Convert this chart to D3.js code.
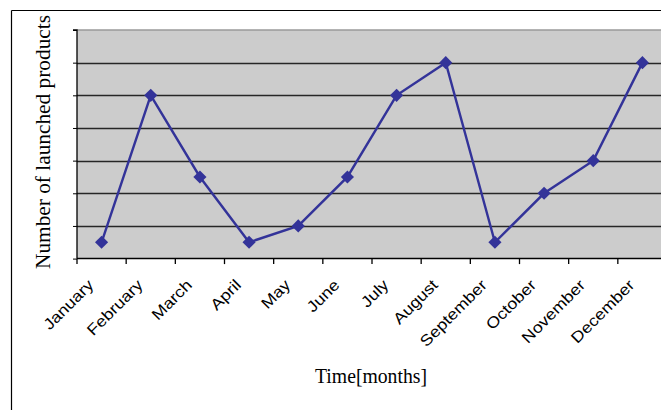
<!DOCTYPE html>
<html>
<head>
<meta charset="utf-8">
<script src="https://cdn.jsdelivr.net/npm/d3@7"></script>
<style>
  html, body { margin: 0; padding: 0; background: #ffffff; }
  svg { display: block; }
</style>
</head>
<body>
<svg id="chart" width="661" height="410"></svg>
<script>
// Monthly launches
const months = ["January", "February", "March", "April", "May", "June",
                "July", "August", "September", "October", "November", "December"];
const launched = [0.5, 5, 2.5, 0.5, 1, 2.5, 5, 6, 0.5, 2, 3, 6];
const gridValues = [0, 1, 2, 3, 4, 5, 6, 7];
const xTitle = "Time[months]";
const yTitle = "Number of launched products";

const svg = d3.select("#chart");
const W = 661, H = 410;
const plot = { left: 77, right: 667, top: 30, bottom: 258.6 };

// Outer frame (top and left edges visible)
svg.append("line").attr("x1", 11.5).attr("x2", W).attr("y1", 10.5).attr("y2", 10.5)
  .attr("stroke", "#000").attr("stroke-width", 1.2);
svg.append("line").attr("x1", 11.5).attr("x2", 11.5).attr("y1", 10.5).attr("y2", H)
  .attr("stroke", "#000").attr("stroke-width", 1.2);

const x = d3.scaleBand().domain(months).range([plot.left, plot.right]).padding(0);
const y = d3.scaleLinear().domain([0, 7]).range([plot.bottom, plot.top]);

// Plot background
svg.append("rect")
  .attr("x", plot.left).attr("y", plot.top)
  .attr("width", plot.right - plot.left).attr("height", plot.bottom - plot.top)
  .attr("fill", "#cccccc");

// Top border of plot area
svg.append("line")
  .attr("x1", plot.left).attr("x2", plot.right)
  .attr("y1", y(7)).attr("y2", y(7))
  .attr("stroke", "#9a9a9a").attr("stroke-width", 1.5);

// Horizontal gridlines
svg.append("g").selectAll("line")
  .data(gridValues.filter(v => v > 0 && v < 7))
  .join("line")
  .attr("x1", plot.left).attr("x2", plot.right)
  .attr("y1", d => Math.round(y(d)) + 0.5).attr("y2", d => Math.round(y(d)) + 0.5)
  .attr("stroke", "#262626").attr("stroke-width", 1.4);

// Y axis with small ticks on the left
const yAxis = d3.axisLeft(y).tickValues(gridValues).tickSize(4).tickFormat("");
const yg = svg.append("g").attr("transform", `translate(${plot.left},0)`).call(yAxis);
yg.select(".domain").attr("stroke", "#000").attr("stroke-width", 1.3).attr("d", `M-4,${y(7)}H0V${plot.bottom}`);
yg.selectAll(".tick line").attr("stroke", "#000");

// X axis line
svg.append("line")
  .attr("x1", plot.left).attr("x2", plot.right)
  .attr("y1", plot.bottom).attr("y2", plot.bottom)
  .attr("stroke", "#000").attr("stroke-width", 1.5);

// X ticks at category boundaries
const boundaries = d3.range(months.length + 1).map(i => plot.left + i * x.step());
svg.append("g").selectAll("line")
  .data(boundaries)
  .join("line")
  .attr("x1", d => d).attr("x2", d => d)
  .attr("y1", plot.bottom).attr("y2", plot.bottom + 5.5)
  .attr("stroke", "#000").attr("stroke-width", 1.3);

// Rotated month labels
const labels = svg.append("g").selectAll("text")
  .data(months)
  .join("text")
  .attr("transform", d => `translate(${x(d) + x.bandwidth() / 2 - 7},${286}) rotate(-45)`)
  .attr("text-anchor", "end")
  .attr("font-family", "Liberation Sans, Arial, sans-serif")
  .attr("font-size", 15.5)
  .attr("fill", "#000")
  .text(d => d);
labels.each(function () {
  const len = this.getComputedTextLength();
  d3.select(this).attr("textLength", len * 1.15).attr("lengthAdjust", "spacingAndGlyphs");
});

// Series line and diamond markers
const pts = months.map((m, i) => [x(m) + x.bandwidth() / 2, y(launched[i])]);
svg.append("path")
  .attr("d", d3.line()(pts))
  .attr("fill", "none")
  .attr("stroke", "#333399")
  .attr("stroke-width", 2.4);

svg.append("g").selectAll("path")
  .data(pts)
  .join("path")
  .attr("transform", d => `translate(${d[0]},${d[1]})`)
  .attr("d", d3.symbol(d3.symbolDiamond2, 110)())
  .attr("fill", "#333399");

// Axis titles
const xt = svg.append("text")
  .attr("x", 371).attr("y", 383)
  .attr("text-anchor", "middle")
  .attr("font-family", "Liberation Serif, Times New Roman, serif")
  .attr("font-size", 22)
  .attr("fill", "#000")
  .text(xTitle);
xt.attr("textLength", 112).attr("lengthAdjust", "spacingAndGlyphs");

const yt = svg.append("text")
  .attr("transform", `translate(50,${142}) rotate(-90)`)
  .attr("text-anchor", "middle")
  .attr("font-family", "Liberation Serif, Times New Roman, serif")
  .attr("font-size", 22)
  .attr("fill", "#000")
  .text(yTitle);
yt.attr("textLength", 254).attr("lengthAdjust", "spacingAndGlyphs");
</script>
</body>
</html>
